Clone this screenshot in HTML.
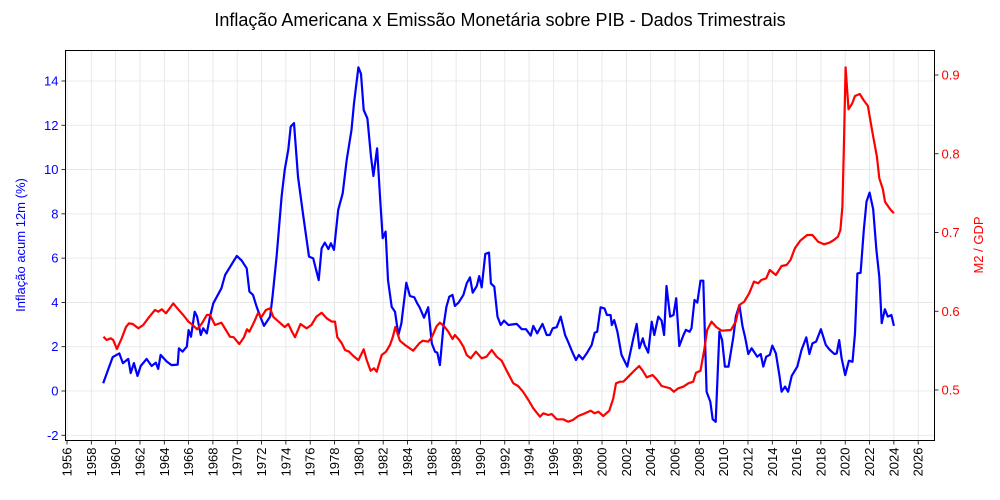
<!DOCTYPE html>
<html><head><meta charset="utf-8">
<style>
html,body{margin:0;padding:0;background:#fff;}
svg{display:block;font-family:"Liberation Sans",sans-serif;}
</style></head>
<body>
<svg id="chart" width="1000" height="500" viewBox="0 0 1000 500" xmlns="http://www.w3.org/2000/svg">
<text x="500" y="26" text-anchor="middle" font-size="18">Inflação Americana x Emissão Monetária sobre PIB - Dados Trimestrais</text>
<g id="grid"></g>
<g id="lines"></g>
<rect x="65.5" y="50.5" width="869" height="390" fill="none" stroke="#000" stroke-width="1"/>
<g id="axes"></g>
<text transform="translate(25,245) rotate(-90)" text-anchor="middle" font-size="13" fill="#0000ff">Inflação acum 12m (%)</text>
<text transform="translate(983,245) rotate(-90)" text-anchor="middle" font-size="13" fill="#ff0000">M2 / GDP</text>
</svg>
<script>
const xTicks = [1956,1958,1960,1962,1964,1966,1968,1970,1972,1974,1976,1978,1980,1982,1984,1986,1988,1990,1992,1994,1996,1998,2000,2002,2004,2006,2008,2010,2012,2014,2016,2018,2020,2022,2024,2026];
const leftTicks = [-2,0,2,4,6,8,10,12,14];
const rightTicks = [0.5,0.6,0.7,0.8,0.9];

const inflYears = [1958.98,1959.76,1960.3,1960.6,1961.04,1961.24,1961.5,1961.8,1962.06,1962.55,1962.96,1963.3,1963.5,1963.7,1964.2,1964.6,1965.1,1965.2,1965.5,1965.85,1966.0,1966.2,1966.5,1966.7,1967.0,1967.2,1967.5,1967.76,1968.03,1968.7,1969.0,1969.96,1970.37,1970.78,1971.0,1971.3,1971.6,1971.9,1972.2,1972.7,1972.9,1973.24,1973.65,1973.9,1974.2,1974.4,1974.67,1975.0,1975.4,1975.9,1976.25,1976.7,1976.94,1977.2,1977.5,1977.7,1977.96,1978.3,1978.67,1979.0,1979.4,1979.6,1979.96,1980.18,1980.4,1980.7,1981.0,1981.2,1981.5,1981.74,1981.96,1982.2,1982.4,1982.7,1982.97,1983.25,1983.5,1983.7,1983.9,1984.2,1984.56,1984.8,1985.0,1985.36,1985.7,1986.0,1986.26,1986.45,1986.67,1986.95,1987.2,1987.44,1987.7,1987.9,1988.2,1988.6,1988.87,1989.14,1989.36,1989.7,1989.9,1990.1,1990.4,1990.7,1990.86,1991.14,1991.4,1991.67,1991.94,1992.3,1992.98,1993.4,1993.75,1994.13,1994.35,1994.67,1995.1,1995.45,1995.7,1995.94,1996.27,1996.6,1996.96,1997.2,1997.6,1997.86,1998.1,1998.4,1998.74,1999.15,1999.4,1999.6,1999.88,2000.2,2000.4,2000.7,2000.8,2001.0,2001.26,2001.6,2002.08,2002.6,2002.85,2003.07,2003.35,2003.5,2003.8,2004.08,2004.3,2004.63,2004.9,2005.1,2005.3,2005.6,2005.88,2006.1,2006.35,2006.7,2006.9,2007.2,2007.36,2007.6,2007.83,2008.1,2008.33,2008.6,2008.9,2009.1,2009.35,2009.65,2009.87,2010.1,2010.4,2010.8,2011.0,2011.3,2011.56,2011.76,2012.03,2012.3,2012.77,2013.05,2013.26,2013.5,2013.8,2014.0,2014.3,2014.6,2014.77,2015.05,2015.3,2015.6,2016.06,2016.4,2016.8,2017.05,2017.3,2017.6,2018.0,2018.4,2018.7,2019.1,2019.3,2019.5,2019.7,2020.0,2020.3,2020.6,2020.8,2021.0,2021.26,2021.53,2021.75,2022.0,2022.3,2022.56,2022.8,2023.0,2023.26,2023.5,2023.8,2024.0];
const inflValues = [0.35,1.53,1.7,1.26,1.45,0.81,1.26,0.68,1.13,1.45,1.13,1.28,1.0,1.63,1.33,1.17,1.19,1.93,1.78,2.0,2.75,2.45,3.58,3.36,2.53,2.83,2.6,3.36,3.96,4.64,5.24,6.1,5.89,5.54,4.49,4.34,3.8,3.36,2.94,3.36,4.26,6.07,8.78,9.98,10.9,11.94,12.1,9.68,8.03,6.07,5.99,5.01,6.44,6.7,6.41,6.67,6.37,8.18,8.93,10.43,11.79,12.99,14.62,14.32,12.69,12.31,10.58,9.71,10.96,8.78,6.9,7.2,5.01,3.8,3.58,2.53,3.06,3.96,4.89,4.29,4.23,3.96,3.78,3.31,3.78,2.15,1.78,1.73,1.17,2.9,3.8,4.26,4.34,3.84,3.99,4.34,4.86,5.13,4.44,4.74,5.19,4.68,6.19,6.25,4.86,4.71,3.36,2.98,3.18,2.98,3.03,2.79,2.79,2.5,2.94,2.6,3.03,2.53,2.53,2.83,2.88,3.36,2.53,2.23,1.7,1.4,1.63,1.43,1.7,2.08,2.63,2.68,3.78,3.73,3.43,3.43,2.98,3.2,2.68,1.63,1.1,2.45,3.03,1.93,2.38,2.08,1.73,3.13,2.53,3.36,3.18,2.53,4.74,3.36,3.43,4.19,2.03,2.53,2.76,2.68,2.83,4.11,3.99,4.98,4.98,-0.03,-0.48,-1.28,-1.39,2.68,2.3,1.1,1.1,2.45,3.36,3.88,2.9,2.45,1.67,1.93,1.55,1.67,1.1,1.55,1.63,2.05,1.7,0.65,-0.03,0.2,-0.03,0.68,1.1,1.85,2.42,1.67,2.15,2.23,2.79,2.08,1.88,1.67,1.7,2.3,1.48,0.72,1.37,1.32,2.6,5.31,5.34,7.27,8.55,8.96,8.2,6.37,5.16,3.06,3.69,3.36,3.43,2.94];

const m2Years = [1959.0,1959.26,1959.6,1959.8,1960.1,1960.5,1960.85,1961.1,1961.4,1961.86,1962.27,1962.77,1963.24,1963.5,1963.8,1964.14,1964.74,1965.07,1965.56,1965.98,1966.25,1966.7,1967.1,1967.5,1967.76,1968.17,1968.7,1969.07,1969.4,1969.7,1970.17,1970.56,1970.8,1971.0,1971.4,1971.7,1972.0,1972.36,1972.7,1972.96,1973.5,1973.9,1974.2,1974.5,1974.75,1975.2,1975.7,1976.1,1976.5,1976.94,1977.36,1977.77,1978.04,1978.23,1978.6,1978.86,1979.2,1979.55,1979.96,1980.4,1980.65,1980.97,1981.25,1981.47,1981.88,1982.23,1982.56,1982.8,1983.0,1983.38,1983.8,1984.47,1984.97,1985.25,1985.7,1986.0,1986.4,1986.67,1987.0,1987.36,1987.7,1987.9,1988.26,1988.6,1988.87,1989.2,1989.63,1990.1,1990.5,1990.93,1991.34,1991.75,1992.16,1992.7,1993.1,1993.5,1993.94,1994.35,1994.9,1995.17,1995.58,1995.86,1996.27,1996.8,1997.22,1997.6,1998.05,1998.6,1999.06,1999.4,1999.7,2000.1,2000.6,2000.93,2001.15,2001.48,2001.75,2002.16,2002.7,2003.06,2003.34,2003.67,2004.16,2004.54,2004.9,2005.6,2005.9,2006.27,2006.68,2007.1,2007.5,2007.73,2008.1,2008.4,2008.65,2009.0,2009.4,2009.83,2010.6,2011.0,2011.3,2011.7,2012.1,2012.5,2012.85,2013.1,2013.5,2013.8,2014.3,2014.77,2015.18,2015.5,2015.86,2016.3,2016.87,2017.3,2017.77,2018.25,2018.7,2019.07,2019.4,2019.6,2019.77,2019.88,2020.03,2020.27,2020.57,2020.8,2021.2,2021.5,2021.86,2022.2,2022.6,2022.8,2023.1,2023.27,2023.7,2024.0];
const m2Values = [0.5677,0.5635,0.5657,0.5635,0.552,0.5657,0.58,0.5847,0.5838,0.5783,0.5825,0.593,0.6016,0.5994,0.6025,0.5974,0.61,0.6037,0.5952,0.5868,0.5838,0.5771,0.5847,0.5952,0.5952,0.5825,0.5855,0.5762,0.5677,0.567,0.5584,0.567,0.5771,0.574,0.5868,0.5974,0.593,0.6016,0.6037,0.593,0.5855,0.58,0.5838,0.574,0.567,0.5838,0.5783,0.5825,0.593,0.598,0.591,0.5868,0.5868,0.567,0.5593,0.5508,0.5486,0.5432,0.538,0.5517,0.538,0.5245,0.5275,0.5233,0.5444,0.5486,0.5571,0.5677,0.58,0.5626,0.5571,0.5499,0.5593,0.5626,0.5613,0.567,0.5813,0.5855,0.5813,0.574,0.5648,0.5698,0.5635,0.555,0.5444,0.5402,0.5486,0.5402,0.5423,0.5508,0.5423,0.5372,0.5245,0.5085,0.5051,0.4978,0.4873,0.4767,0.4661,0.4704,0.4683,0.4695,0.4628,0.4628,0.4597,0.4619,0.467,0.4704,0.4737,0.4704,0.4725,0.467,0.4737,0.4894,0.5085,0.5105,0.5105,0.5169,0.5254,0.5305,0.5245,0.5161,0.519,0.5127,0.5051,0.5021,0.4978,0.5021,0.5042,0.5085,0.5105,0.522,0.5245,0.5508,0.5762,0.5868,0.58,0.5753,0.5762,0.5868,0.608,0.6122,0.6228,0.6376,0.6355,0.6397,0.6418,0.6524,0.646,0.6575,0.6587,0.6651,0.6799,0.6896,0.6968,0.6968,0.6883,0.685,0.687,0.6905,0.6947,0.7032,0.7328,0.8048,0.9098,0.8564,0.864,0.8733,0.8759,0.8682,0.8606,0.8302,0.7963,0.7688,0.7549,0.7391,0.7294,0.7244];

const NS = "http://www.w3.org/2000/svg";
const L = 65.5, R = 934.5, T = 50.5, B = 440.5;
function xScale(yr){ return 67 + (yr - 1956) * 12.16; }
function yLeft(v){ return 391 - v * 22.143; }
function yRight(v){ return 390 - (v - 0.5) * 787.5; }
function mk(tag, attrs, parent){ const e = document.createElementNS(NS, tag); for (const k in attrs) e.setAttribute(k, attrs[k]); parent.appendChild(e); return e; }

const grid = document.getElementById('grid');
const axes = document.getElementById('axes');
xTicks.forEach(t => {
  const x = xScale(t);
  const gl = mk('line', {x1:x, x2:x, y1:T, y2:B, stroke:'#e4e4e4', 'stroke-width':0.8}, grid);
  
  
  const tk = mk('line', {x1:x, x2:x, y1:B, y2:B+4, stroke:'#000', 'stroke-width':0.8}, axes);
  
  
  const lb = mk('text', {transform:`translate(${x+4.5},${B+7}) rotate(-90)`, 'text-anchor':'end', 'font-size':13}, axes);
  lb.textContent = t;
  
  
});
leftTicks.forEach(t => {
  const y = yLeft(t);
  const gl = mk('line', {x1:L, x2:R, y1:y, y2:y, stroke:'#e4e4e4', 'stroke-width':0.8}, grid);
  
  
  const tk = mk('line', {x1:L-4, x2:L, y1:y, y2:y, stroke:'#000', 'stroke-width':0.8}, axes);
  
  
  const lb = mk('text', {x:L-7, y:y+4.5, 'text-anchor':'end', 'font-size':13, fill:'#0000ff'}, axes);
  lb.textContent = t;
  
  
});
rightTicks.forEach(t => {
  const y = yRight(t);
  const tk = mk('line', {x1:R, x2:R+4, y1:y, y2:y, stroke:'#000', 'stroke-width':0.8}, axes);
  
  
  const lb = mk('text', {x:R+7, y:y+4.5, 'text-anchor':'start', 'font-size':13, fill:'#ff0000'}, axes);
  lb.textContent = t.toFixed(1);
  
  
});

const lines = document.getElementById('lines');
const dInfl = inflYears.map((yr,i) => (i?'L':'M') + xScale(yr).toFixed(1) + ',' + yLeft(inflValues[i]).toFixed(1)).join(' ');
const pInfl = mk('path', {d:dInfl, fill:'none', stroke:'#0000ff', 'stroke-width':2.2, 'stroke-linejoin':'round'}, lines);


const dM2 = m2Years.map((yr,i) => (i?'L':'M') + xScale(yr).toFixed(1) + ',' + yRight(m2Values[i]).toFixed(1)).join(' ');
const pM2 = mk('path', {d:dM2, fill:'none', stroke:'#ff0000', 'stroke-width':2.2, 'stroke-linejoin':'round'}, lines);


</script>
</body></html>
